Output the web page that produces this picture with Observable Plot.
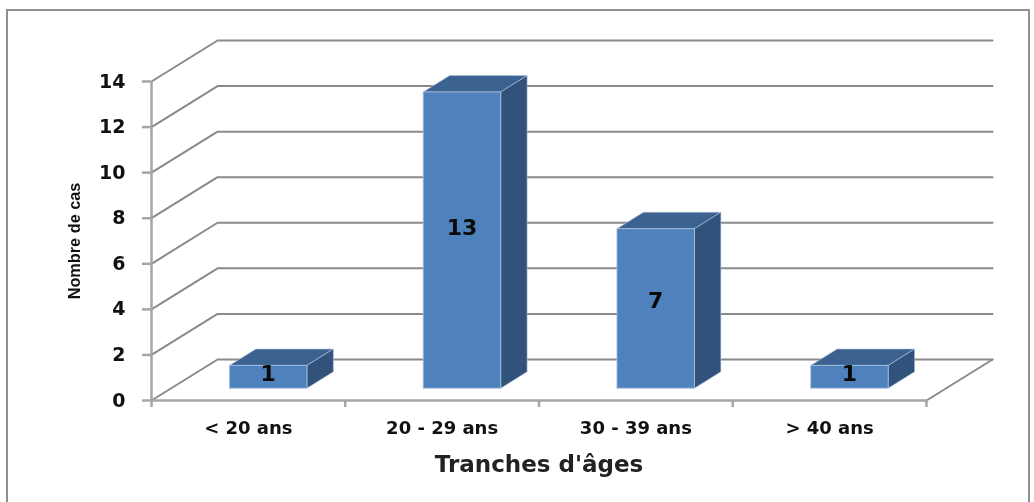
<!DOCTYPE html>
<html><head><meta charset="utf-8">
<script src="https://cdn.jsdelivr.net/npm/d3@7"></script>
<script src="https://cdn.jsdelivr.net/npm/@observablehq/plot@0.6"></script>
<style>
html,body{margin:0;padding:0;background:#fff;width:1034px;height:502px;overflow:hidden}
#frame{position:absolute;left:6px;top:9px;width:1024px;height:500px;border:2px solid #8f8f8f;box-sizing:border-box}
#chart{position:absolute;left:0;top:0;filter:blur(.5px)}
svg{background:transparent;overflow:visible}
</style></head><body>
<div id="frame"></div><div id="chart"></div>
<script>
const categories = ["< 20 ans", "20 - 29 ans", "30 - 39 ans", "> 40 ans"];
const cases = [1, 13, 7, 1];
const yTicks = [0, 2, 4, 6, 8, 10, 12, 14];
const xEdges = [0, 1, 2, 3, 4];
const xTitle = "Tranches d'âges";
const yTitle = "Nombre de cas";

// oblique depth: z runs 0 (front) to 1 (back wall)
const depthX = 0.341, depthY = 1.8;
const px = (x, z) => x + z * depthX;
const py = (y, z) => y + z * depthY;
const barHalf = 0.2, zFront = 0.3, zBack = 0.7;

const gridPts = yTicks.flatMap(t => [
  {k: t, x: px(0,0), y: py(t,0)},
  {k: t, x: px(0,1), y: py(t,1)},
  {k: t, x: px(4,1), y: py(t,1)}
]);
const floorEdge = [
  {x: px(4,0), y: py(0,0)},
  {x: px(4,1), y: py(0,1)}
];
function faces(kind) {
  return cases.flatMap((v, i) => {
    const c = i + 0.5, l = c - barHalf, r = c + barHalf;
    const P = (x, y, z) => ({k: i, x: px(x, z), y: py(y, z)});
    if (kind === "front") return [P(l,0,zFront),P(r,0,zFront),P(r,v,zFront),P(l,v,zFront),P(l,0,zFront)];
    if (kind === "side") return [P(r,0,zFront),P(r,0,zBack),P(r,v,zBack),P(r,v,zFront),P(r,0,zFront)];
    return [P(l,v,zFront),P(r,v,zFront),P(r,v,zBack),P(l,v,zBack),P(l,v,zFront)];
  });
}
const labels = cases.map((v, i) => ({v, x: px(i + 0.5, zFront), y: py(v * 0.535, zFront)}));
const fontMain = "'DejaVu Sans', sans-serif";

const chart = Plot.plot({
  width: 1034, height: 502,
  marginLeft: 151, marginRight: 108, marginTop: 81, marginBottom: 102,
  style: {fontFamily: fontMain, background: "transparent", overflow: "visible"},
  x: {domain: [0, 4], axis: null},
  y: {domain: [0, 14], axis: null},
  marks: [
    Plot.line(gridPts, {x: "x", y: "y", z: "k", stroke: "#8a8a8a", strokeWidth: 2, curve: "linear"}),
    Plot.line(floorEdge, {x: "x", y: "y", stroke: "#8a8a8a", strokeWidth: 2}),
    Plot.ruleY([0], {x1: 0, x2: 4, stroke: "#a6a6a6", strokeWidth: 2.5}),
    Plot.ruleX([0], {y1: 0, y2: 14, stroke: "#a6a6a6", strokeWidth: 2.5}),
    Plot.line(faces("top"), {x: "x", y: "y", z: "k", fill: "#3c6291", stroke: "#b4c6dc", strokeWidth: 0.6}),
    Plot.line(faces("side"), {x: "x", y: "y", z: "k", fill: "#31527a", stroke: "#b4c6dc", strokeWidth: 0.6}),
    Plot.line(faces("front"), {x: "x", y: "y", z: "k", fill: "#4f81bd", stroke: "#a9c1de", strokeWidth: 0.8}),
    Plot.text(labels, {x: "x", y: "y", dy: -2, text: "v", fontSize: 22, fontWeight: "bold", fill: "#0a0a0a"}),
    Plot.axisY({ticks: yTicks, anchor: "left", tickSize: 9, stroke: "#a6a6a6", strokeWidth: 2.5,
      tickPadding: 17, fontSize: 19, fontWeight: "bold", fill: "#111", label: null, tickFormat: d3.format("d")}),
    Plot.axisY({ticks: [], anchor: "left", label: yTitle, labelArrow: "none", labelAnchor: "center",
      labelOffset: 83, fontSize: 16.3, fontWeight: "bold", fill: "#111", fontFamily: "'Liberation Sans Narrow', 'Liberation Sans', sans-serif"}),
    Plot.axisX({ticks: xEdges, anchor: "bottom", tickSize: 7, stroke: "#a6a6a6", strokeWidth: 2.5, tickFormat: () => "", label: null}),
    Plot.axisX({ticks: xEdges.slice(0, 4).map(d => d + 0.5), anchor: "bottom", tickSize: 0, tickPadding: 21,
      tickFormat: d => categories[d - 0.5], fontSize: 18, fontWeight: "bold", fill: "#111", label: null}),
    Plot.axisX({ticks: [], anchor: "bottom", label: xTitle, labelArrow: "none", labelAnchor: "center",
      labelOffset: 71, fontSize: 23, fontWeight: "bold", fill: "#222"})
  ]
});
document.getElementById("chart").append(chart);
</script>
</body></html>
